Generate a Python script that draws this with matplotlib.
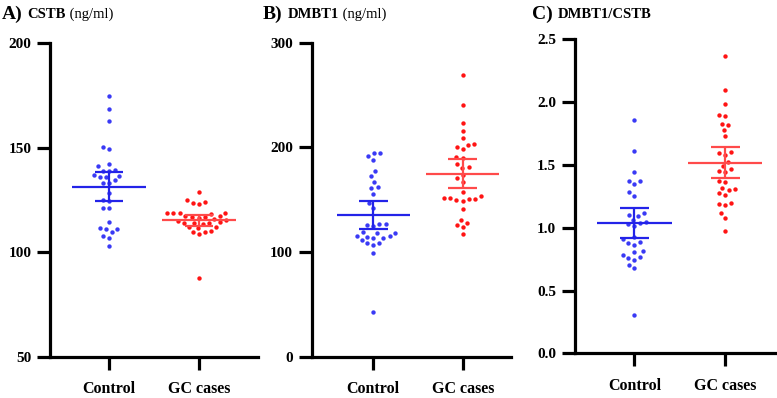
import numpy as np
import matplotlib
matplotlib.use('Agg')
import matplotlib.pyplot as plt

plt.rcParams['font.family'] = ['Liberation Serif', 'DejaVu Serif']

groups = ['Control', 'GC cases']

cstb_control = [174.6, 168.3, 162.8, 150.4, 149.4, 142.0, 141.3, 139.2, 139.0, 138.8,
                137.0, 136.5, 136.0, 135.8, 134.5, 133.3, 133.0, 128.5, 125.0, 124.3,
                121.3, 121.0, 114.5, 111.8, 111.3, 111.0, 109.5, 108.0, 106.8, 102.8]
cstb_gc = [129.0, 125.0, 124.2, 123.8, 123.0, 119.0, 118.9, 118.8, 118.7, 118.5,
           117.5, 117.3, 117.1, 116.8, 116.5, 115.8, 115.5, 115.2, 114.3, 114.2,
           114.0, 113.8, 113.5, 112.3, 112.0, 111.8, 110.0, 109.8, 109.7, 108.8, 87.8]

dmbt1_control = [195.0, 194.5, 191.7, 188.0, 177.4, 172.6, 167.2, 161.8, 161.5, 155.7,
                 146.5, 141.8, 127.0, 126.5, 126.0, 125.0, 119.0, 118.5, 118.0, 115.5,
                 115.0, 114.5, 113.3, 113.0, 111.2, 108.5, 108.2, 106.7, 99.4, 42.7]
dmbt1_gc = [268.8, 240.2, 223.3, 215.3, 209.0, 203.2, 202.3, 200.4, 198.4, 191.1,
            190.2, 183.9, 181.1, 180.0, 173.9, 170.4, 167.2, 157.1, 153.5, 151.6,
            151.6, 150.4, 150.4, 149.7, 148.8, 141.1, 130.6, 128.1, 125.8, 123.6, 117.2]

ratio_control = [1.857, 1.608, 1.446, 1.374, 1.369, 1.345, 1.282, 1.255, 1.119, 1.104,
                 1.096, 1.064, 1.045, 1.040, 1.029, 1.014, 0.928, 0.908, 0.889, 0.876,
                 0.862, 0.812, 0.804, 0.783, 0.769, 0.755, 0.743, 0.703, 0.677, 0.307]
ratio_gc = [2.365, 2.094, 1.985, 1.900, 1.889, 1.828, 1.815, 1.778, 1.728, 1.600,
            1.595, 1.576, 1.523, 1.491, 1.467, 1.449, 1.443, 1.369, 1.365, 1.316,
            1.306, 1.302, 1.274, 1.260, 1.194, 1.190, 1.181, 1.119, 1.077, 0.976]

# mean and error-bar limits
cstb_mean = [131.3, 115.5]
cstb_lo = [124.5, 112.8]
cstb_hi = [138.2, 117.8]
dmbt1_mean = [135.4, 174.8]
dmbt1_lo = [122.0, 161.5]
dmbt1_hi = [148.5, 188.6]
ratio_mean = [1.040, 1.515]
ratio_lo = [0.918, 1.396]
ratio_hi = [1.159, 1.640]

cstb_ticks = [50, 100, 150, 200]
dmbt1_ticks = [0, 100, 200, 300]
ratio_ticks = [0.0, 0.5, 1.0, 1.5, 2.0, 2.5]
ratio_ticklabels = ['0.0', '0.5', '1.0', '1.5', '2.0', '2.5']

titles = [('A)', 'CSTB', ' (ng/ml)'), ('B)', 'DMBT1', ' (ng/ml)'), ('C)', 'DMBT1/CSTB', '')]

dot_colors = ['#3a3af5', '#ff1414']
line_colors = ['#2323e8', '#ff4a4a']

W, H = 777, 398
fig = plt.figure(figsize=(W / 100, H / 100), dpi=100)


def px_axes(x0, x1, ytop, ybot):
    return fig.add_axes([x0 / W, 1 - ybot / H, (x1 - x0) / W, (ybot - ytop) / H])


def swarm(ax, xc, values, d=6.4):
    pts = ax.transData.transform(np.column_stack([np.full(len(values), xc), values]))
    ys = pts[:, 1]
    order = np.argsort(ys)
    placed = []
    offs = np.zeros(len(values))
    for i in order:
        y = ys[i]
        forb = []
        for (px, py) in placed:
            dy = abs(py - y)
            if dy < d:
                w = np.sqrt(d * d - dy * dy)
                forb.append((px - w, px + w))
        cands = [0.0] + [a for a, b in forb] + [b for a, b in forb]
        cands.sort(key=lambda c: (abs(c), c))
        chosen = 0.0
        for c in cands:
            if all(not (a + 1e-6 < c < b - 1e-6) for a, b in forb):
                chosen = c
                break
        placed.append((chosen, y))
        offs[i] = chosen
    ppu = ax.transData.transform((1, 0))[0] - ax.transData.transform((0, 0))[0]
    return offs / ppu


def panel(ax, data, means, los, his, ylim, yticks, yticklabels, xlim):
    ax.set_xlim(*xlim)
    ax.set_ylim(*ylim)
    for s in ['top', 'right']:
        ax.spines[s].set_visible(False)
    for s in ['left', 'bottom']:
        ax.spines[s].set_linewidth(2.3)
    ax.set_yticks(yticks)
    ax.set_yticklabels(yticklabels, fontweight='bold', fontsize=11)
    ax.set_xticks([0, 1])
    ax.set_xticklabels(groups, fontweight='bold', fontsize=11.5)
    ax.tick_params(axis='both', width=2.3, length=9.5, direction='out')
    ax.tick_params(axis='y', pad=4)
    ax.tick_params(axis='x', pad=8)
    for i, vals in enumerate(data):
        offs = swarm(ax, i, vals)
        ax.scatter(i + offs, vals, s=10, color=dot_colors[i], linewidths=0, zorder=3, clip_on=False)
        ax.hlines(means[i], i - 0.41, i + 0.41, color=line_colors[i], lw=1.6, zorder=4)
        ax.hlines([los[i], his[i]], i - 0.16, i + 0.16, color=line_colors[i], lw=1.6, zorder=4)
        ax.vlines(i, los[i], his[i], color=line_colors[i], lw=1.6, zorder=4)


axA = px_axes(50, 258, 43, 357)
panel(axA, [cstb_control, cstb_gc], cstb_mean, cstb_lo, cstb_hi, (50, 200),
      cstb_ticks, [str(t) for t in cstb_ticks], (-0.656, 1.656))

axB = px_axes(311.7, 510.7, 42.7, 356.7)
panel(axB, [dmbt1_control, dmbt1_gc], dmbt1_mean, dmbt1_lo, dmbt1_hi, (0, 300),
      dmbt1_ticks, [str(t) for t in dmbt1_ticks], (-0.689, 1.537))

axC = px_axes(575, 777, 39.3, 353.3)
panel(axC, [ratio_control, ratio_gc], ratio_mean, ratio_lo, ratio_hi, (0, 2.5),
      ratio_ticks, ratio_ticklabels, (-0.654, 1.573))

# titles
renderer = fig.canvas.get_renderer()
title_x = [2, 263, 532]
for (letter, name, unit), x0 in zip(titles, title_x):
    y = 1 - 14 / H
    t1 = fig.text(x0 / W, y, letter, fontsize=14, fontweight='bold', va='center', ha='left')
    bb = t1.get_window_extent(renderer)
    t2 = fig.text((bb.x1 + 5) / W, y, name, fontsize=10.5, fontweight='bold', va='center', ha='left')
    bb2 = t2.get_window_extent(renderer)
    if unit:
        fig.text(bb2.x1 / W, y, unit, fontsize=10.5, va='center', ha='left')

fig.savefig('out.png', dpi=100)
